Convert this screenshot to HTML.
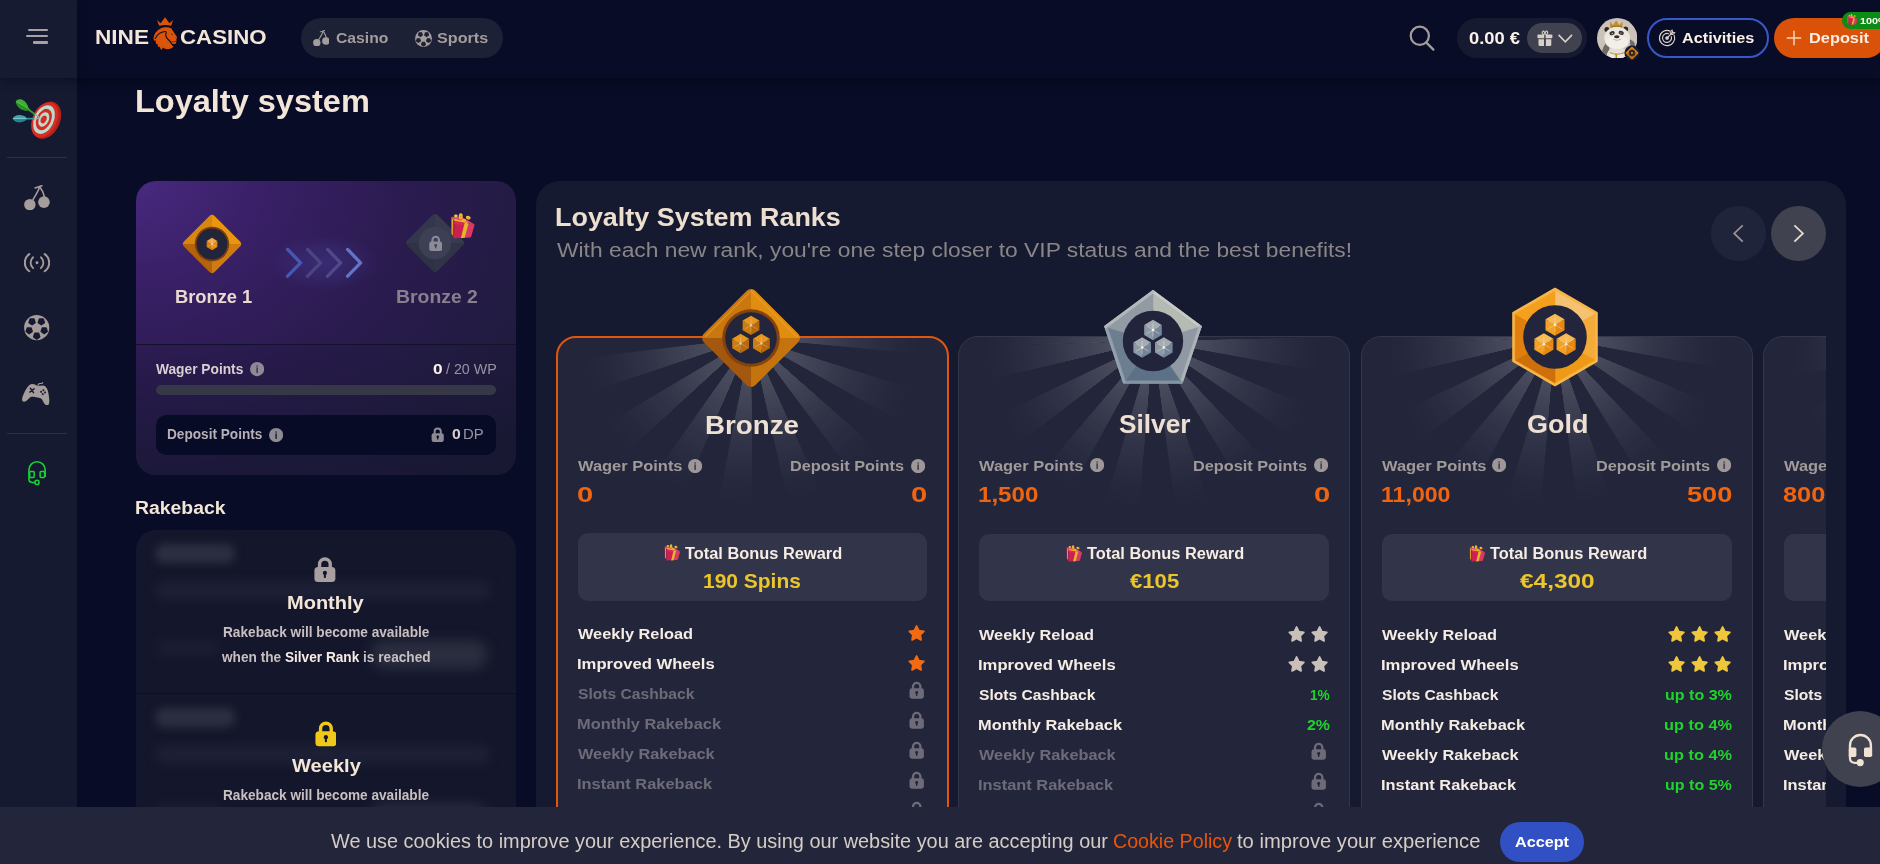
<!DOCTYPE html>
<html lang="en"><head><meta charset="utf-8"><title>Loyalty system</title>
<style>
html,body{margin:0;padding:0;background:#080c26;}
body{width:1880px;height:864px;overflow:hidden;position:relative;font-family:"Liberation Sans",sans-serif;}
#root{position:absolute;left:0;top:0;width:1880px;height:864px;overflow:hidden;}
.a{position:absolute;box-sizing:content-box;}
.t{position:absolute;white-space:nowrap;line-height:1;letter-spacing:0;transform-origin:0 50%;}
.rays{position:absolute;width:420px;height:420px;border-radius:50%;
 -webkit-mask-image:radial-gradient(circle at 50% 50%, #000 0px, rgba(0,0,0,.92) 45px, rgba(0,0,0,.38) 100px, rgba(0,0,0,.09) 145px, rgba(0,0,0,0) 174px);
 mask-image:radial-gradient(circle at 50% 50%, #000 0px, rgba(0,0,0,.92) 45px, rgba(0,0,0,.38) 100px, rgba(0,0,0,.09) 145px, rgba(0,0,0,0) 174px);}
</style></head>
<body><div id="root">
<div class="a " style="left:0.00px;top:0.00px;width:1880.00px;height:864.00px;background:#080c26"></div>
<span class="t" style="left:135.09px;top:85.56px;font-size:31.59px;font-weight:700;color:#f3e6d8;transform:scaleX(1.0289);">Loyalty system</span>
<div class="a " style="left:136.00px;top:181.00px;width:380.00px;height:294.00px;border-radius:20px;overflow:hidden;background:radial-gradient(ellipse farthest-corner at 0% 0%, #48297f 0%, #3a2068 22%, #2b1b50 50%, #221b42 75%, #1a1a33 100%)"></div>
<div class="a " style="left:136.00px;top:345.00px;width:380.00px;height:130.00px;border-radius:0 0 20px 20px;background:linear-gradient(180deg, rgba(18,20,44,.12) 0%, rgba(18,20,44,.42) 100%)"></div>
<div class="a " style="left:136.00px;top:343.80px;width:380.00px;height:1.60px;background:#13122a"></div>
<span class="t" style="left:174.51px;top:289.46px;font-size:17.54px;font-weight:700;color:#ead9d0;transform:scaleX(1.0438);">Bronze 1</span>
<span class="t" style="left:395.74px;top:289.46px;font-size:17.54px;font-weight:700;color:#8a7f8f;transform:scaleX(1.1059);">Bronze 2</span>
<span class="t" style="left:156.00px;top:362.62px;font-size:13.91px;font-weight:700;color:#d9cfd0;transform:scaleX(0.9887);">Wager Points</span>
<span class="t" style="left:433.11px;top:362.62px;font-size:13.91px;font-weight:700;color:#fbf3ea;transform:scaleX(1.2408);">0</span>
<span class="t" style="left:445.50px;top:362.62px;font-size:13.91px;font-weight:400;color:#9a93a0;transform:scaleX(1.0253);">/ 20 WP</span>
<div class="a " style="left:156.00px;top:385.00px;width:340.00px;height:10.00px;border-radius:5px;background:#363848"></div>
<div class="a " style="left:156.00px;top:415.20px;width:340.00px;height:39.60px;border-radius:10px;background:#080b26"></div>
<span class="t" style="left:167.41px;top:427.52px;font-size:13.91px;font-weight:700;color:#b8b0b8;transform:scaleX(0.9799);">Deposit Points</span>
<span class="t" style="left:451.67px;top:427.52px;font-size:13.91px;font-weight:700;color:#d9cfd0;transform:scaleX(1.1349);">0</span>
<span class="t" style="left:463.31px;top:427.52px;font-size:13.91px;font-weight:400;color:#9a93a0;transform:scaleX(1.0710);">DP</span>
<div class="a " style="left:272.00px;top:236.00px;width:106.00px;height:54.00px;border-radius:50%;background:radial-gradient(ellipse at center, rgba(84,92,200,.24) 0%, rgba(84,92,200,.10) 45%, rgba(84,92,200,0) 72%)"></div>
<svg class="a" style="left:180.20px;top:211.80px;" width="64.00" height="64.00" viewBox="-32 -32 64 64"><defs><clipPath id="cls"><rect x="-21.68" y="-21.68" width="43.36" height="43.36" rx="4.00" transform="rotate(45)"/></clipPath></defs><g clip-path="url(#cls)"><rect x="-31.0" y="-31.0" width="31.0" height="31.0" fill="#d9860f"/><rect x="0" y="-31.0" width="31.0" height="31.0" fill="#e8950f"/><rect x="-31.0" y="0" width="31.0" height="31.0" fill="#b5620d"/><rect x="0" y="0" width="31.0" height="31.0" fill="#cf7b0e"/></g><circle r="17.20" fill="#7a3e10"/><circle r="15.40" fill="#22243a"/><polygon points="-5.37,-3.10 0.00,-6.20 5.37,-3.10 0.00,0.00" fill="#f0a63c"/><polygon points="-5.37,-3.10 -5.37,3.10 0.00,6.20 0.00,0.00" fill="#d97b0e"/><polygon points="5.37,-3.10 5.37,3.10 0.00,6.20 0.00,0.00" fill="#e38a14"/><path d="M-3.84 -2.23 L3.84 2.23 M3.84 -2.23 L-3.84 2.23 M0.00 -4.04 L0.00 4.04" stroke="#fff6e0" stroke-width="0.6" opacity="0.55"/><circle cx="0.00" cy="0.00" r="0.74" fill="#fff6e0" opacity="0.77"/></svg>
<svg class="a" style="left:284.40px;top:246.00px;" width="21.00" height="34.00" viewBox="-2 0 21 34"><path d="M1.6 3.4 L14.6 16.8 L1.6 30.2" fill="none" stroke="#4659b0" stroke-width="3.3" stroke-linecap="round" stroke-linejoin="round"/></svg>
<svg class="a" style="left:304.27px;top:246.00px;" width="21.00" height="34.00" viewBox="-2 0 21 34"><path d="M1.6 3.4 L14.6 16.8 L1.6 30.2" fill="none" stroke="#4a4580" stroke-width="3.3" stroke-linecap="round" stroke-linejoin="round"/></svg>
<svg class="a" style="left:324.14px;top:246.00px;" width="21.00" height="34.00" viewBox="-2 0 21 34"><path d="M1.6 3.4 L14.6 16.8 L1.6 30.2" fill="none" stroke="#504a8a" stroke-width="3.3" stroke-linecap="round" stroke-linejoin="round"/></svg>
<svg class="a" style="left:344.01px;top:246.00px;" width="21.00" height="34.00" viewBox="-2 0 21 34"><path d="M1.6 3.4 L14.6 16.8 L1.6 30.2" fill="none" stroke="#6373c5" stroke-width="3.3" stroke-linecap="round" stroke-linejoin="round"/></svg>
<svg class="a" style="left:403.20px;top:211.40px;" width="64.00" height="64.00" viewBox="-32 -32 64 64"><defs><clipPath id="cll"><rect x="-21.54" y="-21.54" width="43.07" height="43.07" rx="4.00" transform="rotate(45)"/></clipPath></defs><g clip-path="url(#cll)"><rect x="-30.8" y="-30.8" width="30.8" height="30.8" fill="#34374b"/><rect x="0" y="-30.8" width="30.8" height="30.8" fill="#383b4f"/><rect x="-30.8" y="0" width="30.8" height="30.8" fill="#2f3245"/><rect x="0" y="0" width="30.8" height="30.8" fill="#313447"/></g><circle r="16.20" fill="#3d4054"/></svg>
<svg class="a" style="left:428.60px;top:235.20px;" width="13.40" height="16.20" viewBox="0 0 20 24"><path d="M5.1 11 V7.4 a4.9 4.9 0 0 1 9.8 0 V11" fill="none" stroke="#8c8c98" stroke-width="3.1"/><rect x="0.4" y="9.8" width="19.2" height="13.9" rx="3.3" fill="#8c8c98"/><circle cx="10" cy="15.3" r="1.95" fill="#3d4054"/><rect x="9.05" y="15.6" width="1.9" height="4.3" rx="0.7" fill="#3d4054"/></svg>
<svg class="a" style="left:449.50px;top:213.20px;" width="25.00" height="26.15" viewBox="205 168 540 565"><path d="M225 248 L470 262 L735 418 L298 338 Z" fill="#ea4a72"/><path d="M225 248 L298 338 L290 712 L232 604 Z" fill="#c41c42"/><path d="M243 268 L271 302 L263 662 L238 614 Z" fill="#e6b02a"/><path d="M298 338 L735 418 L655 690 L290 712 Z" fill="#cc2050"/><path d="M600 393 L735 418 L655 690 L520 704 Z" fill="#da3966"/><path d="M298 338 L522 378 L505 440 L296 400 Z" fill="#d9305c" opacity=".7"/><path d="M522 378 L607 394 L522 704 L440 714 Z" fill="#e8b52a"/><path d="M290 300 L560 352 L600 392 L300 338 Z" fill="#e9b32a"/><ellipse cx="332" cy="234" rx="40" ry="31" fill="#f3c736"/><ellipse cx="437" cy="238" rx="43" ry="64" fill="#f1c030"/><ellipse cx="600" cy="270" rx="52" ry="38" transform="rotate(18 600 270)" fill="#f3c736"/><ellipse cx="604" cy="274" rx="22" ry="14" transform="rotate(18 604 274)" fill="#d9951c"/><ellipse cx="500" cy="330" rx="52" ry="30" fill="#eeb62c"/><ellipse cx="437" cy="250" rx="16" ry="34" fill="#dc9a1e"/></svg>
<svg class="a" style="left:249.50px;top:362.40px;" width="14.20" height="14.20" viewBox="-7.1 -7.1 14.2 14.2"><circle r="7.1" fill="#8e8a93"/><circle cx="0" cy="-3.15" r="0.72" fill="#2a1f4c"/><rect x="-0.62" y="-1.95" width="1.24" height="5.8" rx="0.5" fill="#2a1f4c"/></svg>
<svg class="a" style="left:268.50px;top:427.50px;" width="14.20" height="14.20" viewBox="-7.1 -7.1 14.2 14.2"><circle r="7.1" fill="#8e8a93"/><circle cx="0" cy="-3.15" r="0.72" fill="#080b26"/><rect x="-0.62" y="-1.95" width="1.24" height="5.8" rx="0.5" fill="#080b26"/></svg>
<svg class="a" style="left:430.50px;top:426.80px;" width="13.40" height="15.20" viewBox="0 0 20 24"><path d="M5.1 11 V7.4 a4.9 4.9 0 0 1 9.8 0 V11" fill="none" stroke="#8e8a93" stroke-width="3.1"/><rect x="0.4" y="9.8" width="19.2" height="13.9" rx="3.3" fill="#8e8a93"/><circle cx="10" cy="15.3" r="1.95" fill="#080b26"/><rect x="9.05" y="15.6" width="1.9" height="4.3" rx="0.7" fill="#080b26"/></svg>
<span class="t" style="left:135.04px;top:499.53px;font-size:17.68px;font-weight:700;color:#f3e6d8;transform:scaleX(1.0968);">Rakeback</span>
<div class="a " style="left:136.00px;top:530.00px;width:380.00px;height:340.00px;border-radius:20px 20px 0 0;background:#14172b;overflow:hidden"></div>
<div class="a " style="left:155.00px;top:544.00px;width:80.00px;height:19.00px;border-radius:9px;background:#2c2f41;filter:blur(4.5px)"></div>
<div class="a " style="left:156.00px;top:581.00px;width:334.00px;height:19.00px;border-radius:9px;background:#1d2035;filter:blur(5.0px)"></div>
<div class="a " style="left:156.00px;top:640.00px;width:64.00px;height:16.00px;border-radius:8px;background:#1b1e33;filter:blur(5.0px)"></div>
<div class="a " style="left:371.00px;top:640.00px;width:116.00px;height:29.00px;border-radius:14px;background:#2a2d3e;filter:blur(6.0px)"></div>
<div class="a " style="left:155.00px;top:707.60px;width:80.00px;height:19.00px;border-radius:9px;background:#2c2f41;filter:blur(4.5px)"></div>
<div class="a " style="left:156.00px;top:744.60px;width:334.00px;height:19.00px;border-radius:9px;background:#1d2035;filter:blur(5.0px)"></div>
<div class="a " style="left:156.00px;top:803.60px;width:64.00px;height:16.00px;border-radius:8px;background:#1b1e33;filter:blur(5.0px)"></div>
<div class="a " style="left:371.00px;top:803.60px;width:116.00px;height:29.00px;border-radius:14px;background:#2a2d3e;filter:blur(6.0px)"></div>
<div class="a " style="left:136.00px;top:692.60px;width:380.00px;height:1.40px;background:#0c0f22"></div>
<svg class="a" style="left:314.35px;top:556.20px;" width="21.80" height="26.60" viewBox="0 0 20 24"><path d="M5.1 11 V7.4 a4.9 4.9 0 0 1 9.8 0 V11" fill="none" stroke="#a8a0a0" stroke-width="3.1"/><rect x="0.4" y="9.8" width="19.2" height="13.9" rx="3.3" fill="#a8a0a0"/><circle cx="10" cy="15.3" r="1.95" fill="#14172b"/><rect x="9.05" y="15.6" width="1.9" height="4.3" rx="0.7" fill="#14172b"/></svg>
<svg class="a" style="left:314.50px;top:719.80px;" width="21.80" height="27.20" viewBox="0 0 20 24"><path d="M5.1 11 V7.4 a4.9 4.9 0 0 1 9.8 0 V11" fill="none" stroke="#f0c81a" stroke-width="3.1"/><rect x="0.4" y="9.8" width="19.2" height="13.9" rx="3.3" fill="#f0c81a"/><circle cx="10" cy="15.3" r="1.95" fill="#14172b"/><rect x="9.05" y="15.6" width="1.9" height="4.3" rx="0.7" fill="#14172b"/></svg>
<span class="t" style="left:287.30px;top:593.62px;font-size:18.41px;font-weight:700;color:#f3e6d8;transform:scaleX(1.0866);">Monthly</span>
<span class="t" style="left:222.61px;top:625.85px;font-size:13.77px;font-weight:700;color:#c8bfc0;transform:scaleX(0.9915);">Rakeback will become available</span>
<span class="t" style="left:222.07px;top:650.85px;font-size:13.77px;font-weight:700;color:#c8bfc0;transform:scaleX(0.9913);">when the <span style="color:#f7ece2">Silver Rank</span> is reached</span>
<span class="t" style="left:292.15px;top:757.32px;font-size:18.41px;font-weight:700;color:#f3e6d8;transform:scaleX(1.0914);">Weekly</span>
<span class="t" style="left:223.01px;top:789.25px;font-size:13.77px;font-weight:700;color:#c8bfc0;transform:scaleX(0.9900);">Rakeback will become available</span>
<span class="t" style="left:226.07px;top:814.25px;font-size:13.77px;font-weight:700;color:#c8bfc0;transform:scaleX(0.9832);">when the <span style="color:#f7ece2">Gold Rank</span> is reached</span>
<div class="a " style="left:536.00px;top:181.00px;width:1310.00px;height:700.00px;border-radius:24px 24px 0 0;background:#161a30"></div>
<span class="t" style="left:555.25px;top:205.24px;font-size:25.94px;font-weight:700;color:#eddfd0;transform:scaleX(1.0380);">Loyalty System Ranks</span>
<span class="t" style="left:556.89px;top:240.38px;font-size:20.58px;font-weight:400;color:#8a8688;transform:scaleX(1.1084);">With each new rank, you're one step closer to VIP status and the best benefits!</span>
<div class="a " style="left:1710.70px;top:205.90px;width:55.40px;height:55.40px;border-radius:50%;background:#20243a"></div>
<div class="a " style="left:1770.90px;top:205.90px;width:55.40px;height:55.40px;border-radius:50%;background:#40424f"></div>
<svg class="a" style="left:1728.00px;top:223.00px;" width="20.00" height="21.00" viewBox="0 0 20 21"><path d="M14.7 2.4 L6.2 10.4 L14.7 18.6" fill="none" stroke="#9a9090" stroke-width="1.8"/></svg>
<svg class="a" style="left:1789.00px;top:223.00px;" width="20.00" height="21.00" viewBox="0 0 20 21"><path d="M5.4 2.4 L13.9 10.4 L5.4 18.6" fill="none" stroke="#e8dcd0" stroke-width="1.8"/></svg>
<div class="a" style="left:556px;top:281px;width:1270px;height:600px;overflow:hidden">
<div class="a " style="left:0.00px;top:55.30px;width:388.50px;height:556.00px;border:2px solid #e0560c;border-radius:20px;background:#23263b;overflow:hidden"><div class="rays" style="background:repeating-conic-gradient(from 11.30deg at 50% 50%, rgba(255,255,255,0) 0deg, rgba(255,255,255,0.19) 0.30deg, rgba(255,255,255,0.19) 11.70deg, rgba(255,255,255,0) 12.30deg, rgba(255,255,255,0) 23.70deg, rgba(255,255,255,0) 24deg);left:-16.80px;top:-210.80px"></div></div>
<svg class="a" style="left:143.20px;top:5.20px;" width="104.00" height="104.00" viewBox="-52 -52 104 104"><defs><clipPath id="clb"><rect x="-36.41" y="-36.41" width="72.81" height="72.81" rx="6.00" transform="rotate(45)"/></clipPath></defs><g clip-path="url(#clb)"><rect x="-51.0" y="-51.0" width="51.0" height="51.0" fill="#ca770e"/><rect x="0" y="-51.0" width="51.0" height="51.0" fill="#e18d0f"/><rect x="-51.0" y="0" width="51.0" height="51.0" fill="#a4570f"/><rect x="0" y="0" width="51.0" height="51.0" fill="#c5740d"/></g><circle r="28.80" fill="#84420f"/><circle r="25.80" fill="#22253b"/><path d="M-46 -1 L0 -47 L46 -1" fill="none" stroke="#f0a83a" stroke-width="1.2" opacity=".55"/><polygon points="-8.40,-17.45 0.00,-22.30 8.40,-17.45 0.00,-12.60" fill="#e9961c"/><polygon points="-8.40,-17.45 -8.40,-7.75 0.00,-2.90 0.00,-12.60" fill="#cc7c10"/><polygon points="8.40,-17.45 8.40,-7.75 0.00,-2.90 0.00,-12.60" fill="#b8690e"/><path d="M-6.01 -16.09 L6.01 -9.11 M6.01 -16.09 L-6.01 -9.11 M0.00 -18.91 L0.00 -6.29" stroke="#fff6e0" stroke-width="0.6" opacity="0.42"/><circle cx="0.00" cy="-12.60" r="1.16" fill="#fff6e0" opacity="0.59"/><polygon points="-18.80,0.65 -10.40,-4.20 -2.00,0.65 -10.40,5.50" fill="#e9961c"/><polygon points="-18.80,0.65 -18.80,10.35 -10.40,15.20 -10.40,5.50" fill="#cc7c10"/><polygon points="-2.00,0.65 -2.00,10.35 -10.40,15.20 -10.40,5.50" fill="#b8690e"/><path d="M-16.41 2.01 L-4.39 8.99 M-4.39 2.01 L-16.41 8.99 M-10.40 -0.81 L-10.40 11.81" stroke="#fff6e0" stroke-width="0.6" opacity="0.42"/><circle cx="-10.40" cy="5.50" r="1.16" fill="#fff6e0" opacity="0.59"/><polygon points="2.00,0.65 10.40,-4.20 18.80,0.65 10.40,5.50" fill="#e9961c"/><polygon points="2.00,0.65 2.00,10.35 10.40,15.20 10.40,5.50" fill="#cc7c10"/><polygon points="18.80,0.65 18.80,10.35 10.40,15.20 10.40,5.50" fill="#b8690e"/><path d="M4.39 2.01 L16.41 8.99 M16.41 2.01 L4.39 8.99 M10.40 -0.81 L10.40 11.81" stroke="#fff6e0" stroke-width="0.6" opacity="0.42"/><circle cx="10.40" cy="5.50" r="1.16" fill="#fff6e0" opacity="0.59"/></svg>
<span class="t" style="left:149.10px;top:131.90px;font-size:24.93px;font-weight:700;color:#eee0d3;transform:scaleX(1.1116);">Bronze</span>
<span class="t" style="left:22.00px;top:177.32px;font-size:15.22px;font-weight:700;color:#a09a9a;transform:scaleX(1.0810);">Wager Points</span>
<svg class="a" style="left:132.20px;top:177.50px;" width="14.20" height="14.20" viewBox="-7.1 -7.1 14.2 14.2"><circle r="7.1" fill="#9f9797"/><circle cx="0" cy="-3.15" r="0.72" fill="#23263b"/><rect x="-0.62" y="-1.95" width="1.24" height="5.8" rx="0.5" fill="#23263b"/></svg>
<span class="t" style="left:234.04px;top:177.32px;font-size:15.22px;font-weight:700;color:#a09a9a;transform:scaleX(1.0703);">Deposit Points</span>
<svg class="a" style="left:355.00px;top:177.50px;" width="14.20" height="14.20" viewBox="-7.1 -7.1 14.2 14.2"><circle r="7.1" fill="#9f9797"/><circle cx="0" cy="-3.15" r="0.72" fill="#23263b"/><rect x="-0.62" y="-1.95" width="1.24" height="5.8" rx="0.5" fill="#23263b"/></svg>
<span class="t" style="left:20.83px;top:202.90px;font-size:21.74px;font-weight:700;color:#f0640f;transform:scaleX(1.3461);">0</span>
<span class="t" style="left:354.83px;top:202.90px;font-size:21.74px;font-weight:700;color:#f0640f;transform:scaleX(1.3461);">0</span>
<div class="a " style="left:22.00px;top:252.00px;width:348.50px;height:67.60px;border-radius:10px;background:#32354a"></div>
<svg class="a" style="left:107.85px;top:263.30px;" width="16.40" height="17.15" viewBox="205 168 540 565"><path d="M225 248 L470 262 L735 418 L298 338 Z" fill="#ea4a72"/><path d="M225 248 L298 338 L290 712 L232 604 Z" fill="#c41c42"/><path d="M243 268 L271 302 L263 662 L238 614 Z" fill="#e6b02a"/><path d="M298 338 L735 418 L655 690 L290 712 Z" fill="#cc2050"/><path d="M600 393 L735 418 L655 690 L520 704 Z" fill="#da3966"/><path d="M298 338 L522 378 L505 440 L296 400 Z" fill="#d9305c" opacity=".7"/><path d="M522 378 L607 394 L522 704 L440 714 Z" fill="#e8b52a"/><path d="M290 300 L560 352 L600 392 L300 338 Z" fill="#e9b32a"/><ellipse cx="332" cy="234" rx="40" ry="31" fill="#f3c736"/><ellipse cx="437" cy="238" rx="43" ry="64" fill="#f1c030"/><ellipse cx="600" cy="270" rx="52" ry="38" transform="rotate(18 600 270)" fill="#f3c736"/><ellipse cx="604" cy="274" rx="22" ry="14" transform="rotate(18 604 274)" fill="#d9951c"/><ellipse cx="500" cy="330" rx="52" ry="30" fill="#eeb62c"/><ellipse cx="437" cy="250" rx="16" ry="34" fill="#dc9a1e"/></svg>
<span class="t" style="left:129.19px;top:264.53px;font-size:15.80px;font-weight:700;color:#f5ece4;transform:scaleX(1.0373);">Total Bonus Reward</span>
<span class="t" style="left:146.64px;top:289.75px;font-size:20.14px;font-weight:700;color:#ebc52a;transform:scaleX(1.0417);">190 Spins</span>
<span class="t" style="left:22.00px;top:344.67px;font-size:15.51px;font-weight:700;color:#f5ece4;transform:scaleX(1.0540);">Weekly Reload</span>
<svg class="a" style="left:352.20px;top:343.90px;" width="17.20" height="16.94" viewBox="-10.6 -10.7 21.2 20.9"><path d="M0.00 -9.35 L2.79 -3.84 L8.89 -2.89 L4.52 1.47 L5.50 7.56 L0.00 4.75 L-5.50 7.56 L-4.52 1.47 L-8.89 -2.89 L-2.79 -3.84Z" fill="#f26a12" stroke="#f26a12" stroke-width="2.3" stroke-linejoin="round"/></svg>
<span class="t" style="left:20.92px;top:374.67px;font-size:15.51px;font-weight:700;color:#f5ece4;transform:scaleX(1.0728);">Improved Wheels</span>
<svg class="a" style="left:352.20px;top:373.90px;" width="17.20" height="16.94" viewBox="-10.6 -10.7 21.2 20.9"><path d="M0.00 -9.35 L2.79 -3.84 L8.89 -2.89 L4.52 1.47 L5.50 7.56 L0.00 4.75 L-5.50 7.56 L-4.52 1.47 L-8.89 -2.89 L-2.79 -3.84Z" fill="#f26a12" stroke="#f26a12" stroke-width="2.3" stroke-linejoin="round"/></svg>
<span class="t" style="left:21.53px;top:404.67px;font-size:15.51px;font-weight:700;color:#6d6b78;transform:scaleX(1.0088);">Slots Cashback</span>
<svg class="a" style="left:352.50px;top:400.20px;" width="15.40" height="18.00" viewBox="0 0 20 24"><path d="M5.1 11 V7.4 a4.9 4.9 0 0 1 9.8 0 V11" fill="none" stroke="#6d6b78" stroke-width="3.1"/><rect x="0.4" y="9.8" width="19.2" height="13.9" rx="3.3" fill="#6d6b78"/><circle cx="10" cy="15.3" r="1.95" fill="#23263b"/><rect x="9.05" y="15.6" width="1.9" height="4.3" rx="0.7" fill="#23263b"/></svg>
<span class="t" style="left:20.93px;top:434.67px;font-size:15.51px;font-weight:700;color:#6d6b78;transform:scaleX(1.0581);">Monthly Rakeback</span>
<svg class="a" style="left:352.50px;top:430.20px;" width="15.40" height="18.00" viewBox="0 0 20 24"><path d="M5.1 11 V7.4 a4.9 4.9 0 0 1 9.8 0 V11" fill="none" stroke="#6d6b78" stroke-width="3.1"/><rect x="0.4" y="9.8" width="19.2" height="13.9" rx="3.3" fill="#6d6b78"/><circle cx="10" cy="15.3" r="1.95" fill="#23263b"/><rect x="9.05" y="15.6" width="1.9" height="4.3" rx="0.7" fill="#23263b"/></svg>
<span class="t" style="left:22.00px;top:464.67px;font-size:15.51px;font-weight:700;color:#6d6b78;transform:scaleX(1.0526);">Weekly Rakeback</span>
<svg class="a" style="left:352.50px;top:460.20px;" width="15.40" height="18.00" viewBox="0 0 20 24"><path d="M5.1 11 V7.4 a4.9 4.9 0 0 1 9.8 0 V11" fill="none" stroke="#6d6b78" stroke-width="3.1"/><rect x="0.4" y="9.8" width="19.2" height="13.9" rx="3.3" fill="#6d6b78"/><circle cx="10" cy="15.3" r="1.95" fill="#23263b"/><rect x="9.05" y="15.6" width="1.9" height="4.3" rx="0.7" fill="#23263b"/></svg>
<span class="t" style="left:20.93px;top:494.67px;font-size:15.51px;font-weight:700;color:#6d6b78;transform:scaleX(1.0590);">Instant Rakeback</span>
<svg class="a" style="left:352.50px;top:490.20px;" width="15.40" height="18.00" viewBox="0 0 20 24"><path d="M5.1 11 V7.4 a4.9 4.9 0 0 1 9.8 0 V11" fill="none" stroke="#6d6b78" stroke-width="3.1"/><rect x="0.4" y="9.8" width="19.2" height="13.9" rx="3.3" fill="#6d6b78"/><circle cx="10" cy="15.3" r="1.95" fill="#23263b"/><rect x="9.05" y="15.6" width="1.9" height="4.3" rx="0.7" fill="#23263b"/></svg>
<svg class="a" style="left:352.50px;top:520.20px;" width="15.40" height="18.00" viewBox="0 0 20 24"><path d="M5.1 11 V7.4 a4.9 4.9 0 0 1 9.8 0 V11" fill="none" stroke="#6d6b78" stroke-width="3.1"/><rect x="0.4" y="9.8" width="19.2" height="13.9" rx="3.3" fill="#6d6b78"/><circle cx="10" cy="15.3" r="1.95" fill="#23263b"/><rect x="9.05" y="15.6" width="1.9" height="4.3" rx="0.7" fill="#23263b"/></svg>
<div class="a " style="left:402.40px;top:55.30px;width:390.00px;height:558.00px;border:1px solid #34374a;border-radius:20px;background:#23263b;overflow:hidden"><div class="rays" style="background:conic-gradient(from 0deg at 50% 50%, rgba(255,255,255,0) 0deg, rgba(255,255,255,0) 268.3deg, rgba(255,255,255,.19) 268.5deg, rgba(255,255,255,.19) 276deg, rgba(255,255,255,0) 276.4deg, rgba(255,255,255,0) 360deg), repeating-conic-gradient(from 16.60deg at 50% 50%, rgba(255,255,255,0) 0deg, rgba(255,255,255,0.19) 0.30deg, rgba(255,255,255,0.19) 11.50deg, rgba(255,255,255,0) 12.10deg, rgba(255,255,255,0) 23.70deg, rgba(255,255,255,0) 24deg);left:-16.60px;top:-206.20px"></div></div>
<svg class="a" style="left:544.80px;top:6.10px;" width="104.00" height="104.00" viewBox="-52 -54 104 104"><polygon points="0.0,-49.4 47.2,-14.4 28.4,41.0 -28.7,41.0 -47.2,-14.4" fill="#a9b1b6" stroke="#a9b1b6" stroke-width="3" stroke-linejoin="round"/><path d="M0.0 -49.4 L47.2 -14.4" stroke="#c6cac3" stroke-width="3" stroke-linecap="round"/><path d="M47.2 -14.4 L28.4 41.0" stroke="#adb4b8" stroke-width="3" stroke-linecap="round"/><path d="M28.4 41.0 L-28.7 41.0" stroke="#8594a2" stroke-width="3" stroke-linecap="round"/><path d="M-28.7 41.0 L-47.2 -14.4" stroke="#90a0ad" stroke-width="3" stroke-linecap="round"/><path d="M-47.2 -14.4 L0.0 -49.4" stroke="#b3b9bb" stroke-width="3" stroke-linecap="round"/><polygon points="0,0 0.0,-47.0 45.1,-13.6" fill="#b5bab2" stroke="#b5bab2" stroke-width=".5"/><polygon points="0,0 45.1,-13.6 27.1,39.4" fill="#9099a3" stroke="#9099a3" stroke-width=".5"/><polygon points="0,0 27.1,39.4 -27.4,39.4" fill="#5d7186" stroke="#5d7186" stroke-width=".5"/><polygon points="0,0 -27.4,39.4 -45.1,-13.6" fill="#6c7e90" stroke="#6c7e90" stroke-width=".5"/><polygon points="0,0 -45.1,-13.6 0.0,-47.0" fill="#929aa3" stroke="#929aa3" stroke-width=".5"/><polygon points="28.4,41.0 -28.7,41.0" fill="none" stroke="#7f8d9b" stroke-width="1.2" opacity=".5" transform="translate(0,1.2)"/><circle r="30.2" fill="#21243a"/><polygon points="-8.83,-16.10 0.00,-21.20 8.83,-16.10 0.00,-11.00" fill="#a3abb3"/><polygon points="-8.83,-16.10 -8.83,-5.90 0.00,-0.80 0.00,-11.00" fill="#8b98a6"/><polygon points="8.83,-16.10 8.83,-5.90 0.00,-0.80 0.00,-11.00" fill="#73859a"/><path d="M-6.32 -14.67 L6.32 -7.33 M6.32 -14.67 L-6.32 -7.33 M0.00 -17.64 L0.00 -4.36" stroke="#fff6e0" stroke-width="0.6" opacity="0.70"/><circle cx="0.00" cy="-11.00" r="1.22" fill="#fff6e0" opacity="0.98"/><polygon points="-19.63,1.40 -10.80,-3.70 -1.97,1.40 -10.80,6.50" fill="#a3abb3"/><polygon points="-19.63,1.40 -19.63,11.60 -10.80,16.70 -10.80,6.50" fill="#8b98a6"/><polygon points="-1.97,1.40 -1.97,11.60 -10.80,16.70 -10.80,6.50" fill="#73859a"/><path d="M-17.12 2.83 L-4.48 10.17 M-4.48 2.83 L-17.12 10.17 M-10.80 -0.14 L-10.80 13.14" stroke="#fff6e0" stroke-width="0.6" opacity="0.70"/><circle cx="-10.80" cy="6.50" r="1.22" fill="#fff6e0" opacity="0.98"/><polygon points="1.97,1.40 10.80,-3.70 19.63,1.40 10.80,6.50" fill="#a3abb3"/><polygon points="1.97,1.40 1.97,11.60 10.80,16.70 10.80,6.50" fill="#8b98a6"/><polygon points="19.63,1.40 19.63,11.60 10.80,16.70 10.80,6.50" fill="#73859a"/><path d="M4.48 2.83 L17.12 10.17 M17.12 2.83 L4.48 10.17 M10.80 -0.14 L10.80 13.14" stroke="#fff6e0" stroke-width="0.6" opacity="0.70"/><circle cx="10.80" cy="6.50" r="1.22" fill="#fff6e0" opacity="0.98"/></svg>
<span class="t" style="left:562.71px;top:130.50px;font-size:24.93px;font-weight:700;color:#eee0d3;transform:scaleX(1.0538);">Silver</span>
<span class="t" style="left:423.40px;top:177.02px;font-size:15.22px;font-weight:700;color:#a09a9a;transform:scaleX(1.0810);">Wager Points</span>
<svg class="a" style="left:533.60px;top:176.80px;" width="14.20" height="14.20" viewBox="-7.1 -7.1 14.2 14.2"><circle r="7.1" fill="#9f9797"/><circle cx="0" cy="-3.15" r="0.72" fill="#23263b"/><rect x="-0.62" y="-1.95" width="1.24" height="5.8" rx="0.5" fill="#23263b"/></svg>
<span class="t" style="left:636.94px;top:177.02px;font-size:15.22px;font-weight:700;color:#a09a9a;transform:scaleX(1.0703);">Deposit Points</span>
<svg class="a" style="left:757.90px;top:176.80px;" width="14.20" height="14.20" viewBox="-7.1 -7.1 14.2 14.2"><circle r="7.1" fill="#9f9797"/><circle cx="0" cy="-3.15" r="0.72" fill="#23263b"/><rect x="-0.62" y="-1.95" width="1.24" height="5.8" rx="0.5" fill="#23263b"/></svg>
<span class="t" style="left:421.95px;top:202.90px;font-size:21.74px;font-weight:700;color:#f0640f;transform:scaleX(1.1097);">1,500</span>
<span class="t" style="left:757.73px;top:202.90px;font-size:21.74px;font-weight:700;color:#f0640f;transform:scaleX(1.3461);">0</span>
<div class="a " style="left:423.40px;top:252.60px;width:350.00px;height:67.60px;border-radius:10px;background:#32354a"></div>
<svg class="a" style="left:510.00px;top:263.90px;" width="16.40" height="17.15" viewBox="205 168 540 565"><path d="M225 248 L470 262 L735 418 L298 338 Z" fill="#ea4a72"/><path d="M225 248 L298 338 L290 712 L232 604 Z" fill="#c41c42"/><path d="M243 268 L271 302 L263 662 L238 614 Z" fill="#e6b02a"/><path d="M298 338 L735 418 L655 690 L290 712 Z" fill="#cc2050"/><path d="M600 393 L735 418 L655 690 L520 704 Z" fill="#da3966"/><path d="M298 338 L522 378 L505 440 L296 400 Z" fill="#d9305c" opacity=".7"/><path d="M522 378 L607 394 L522 704 L440 714 Z" fill="#e8b52a"/><path d="M290 300 L560 352 L600 392 L300 338 Z" fill="#e9b32a"/><ellipse cx="332" cy="234" rx="40" ry="31" fill="#f3c736"/><ellipse cx="437" cy="238" rx="43" ry="64" fill="#f1c030"/><ellipse cx="600" cy="270" rx="52" ry="38" transform="rotate(18 600 270)" fill="#f3c736"/><ellipse cx="604" cy="274" rx="22" ry="14" transform="rotate(18 604 274)" fill="#d9951c"/><ellipse cx="500" cy="330" rx="52" ry="30" fill="#eeb62c"/><ellipse cx="437" cy="250" rx="16" ry="34" fill="#dc9a1e"/></svg>
<span class="t" style="left:531.34px;top:265.13px;font-size:15.80px;font-weight:700;color:#f5ece4;transform:scaleX(1.0373);">Total Bonus Reward</span>
<span class="t" style="left:573.59px;top:290.35px;font-size:20.14px;font-weight:700;color:#ebc52a;transform:scaleX(1.0991);">€105</span>
<span class="t" style="left:423.40px;top:345.77px;font-size:15.51px;font-weight:700;color:#f5ece4;transform:scaleX(1.0540);">Weekly Reload</span>
<svg class="a" style="left:732.40px;top:345.00px;" width="17.20" height="16.94" viewBox="-10.6 -10.7 21.2 20.9"><path d="M0.00 -9.35 L2.79 -3.84 L8.89 -2.89 L4.52 1.47 L5.50 7.56 L0.00 4.75 L-5.50 7.56 L-4.52 1.47 L-8.89 -2.89 L-2.79 -3.84Z" fill="#c9c0b8" stroke="#c9c0b8" stroke-width="2.3" stroke-linejoin="round"/></svg>
<svg class="a" style="left:755.10px;top:345.00px;" width="17.20" height="16.94" viewBox="-10.6 -10.7 21.2 20.9"><path d="M0.00 -9.35 L2.79 -3.84 L8.89 -2.89 L4.52 1.47 L5.50 7.56 L0.00 4.75 L-5.50 7.56 L-4.52 1.47 L-8.89 -2.89 L-2.79 -3.84Z" fill="#c9c0b8" stroke="#c9c0b8" stroke-width="2.3" stroke-linejoin="round"/></svg>
<span class="t" style="left:422.32px;top:375.77px;font-size:15.51px;font-weight:700;color:#f5ece4;transform:scaleX(1.0728);">Improved Wheels</span>
<svg class="a" style="left:732.40px;top:375.00px;" width="17.20" height="16.94" viewBox="-10.6 -10.7 21.2 20.9"><path d="M0.00 -9.35 L2.79 -3.84 L8.89 -2.89 L4.52 1.47 L5.50 7.56 L0.00 4.75 L-5.50 7.56 L-4.52 1.47 L-8.89 -2.89 L-2.79 -3.84Z" fill="#c9c0b8" stroke="#c9c0b8" stroke-width="2.3" stroke-linejoin="round"/></svg>
<svg class="a" style="left:755.10px;top:375.00px;" width="17.20" height="16.94" viewBox="-10.6 -10.7 21.2 20.9"><path d="M0.00 -9.35 L2.79 -3.84 L8.89 -2.89 L4.52 1.47 L5.50 7.56 L0.00 4.75 L-5.50 7.56 L-4.52 1.47 L-8.89 -2.89 L-2.79 -3.84Z" fill="#c9c0b8" stroke="#c9c0b8" stroke-width="2.3" stroke-linejoin="round"/></svg>
<span class="t" style="left:422.93px;top:405.77px;font-size:15.51px;font-weight:700;color:#f5ece4;transform:scaleX(1.0088);">Slots Cashback</span>
<span class="t" style="left:753.78px;top:405.77px;font-size:15.51px;font-weight:700;color:#1fd32a;transform:scaleX(0.8819);">1%</span>
<span class="t" style="left:422.33px;top:435.77px;font-size:15.51px;font-weight:700;color:#f5ece4;transform:scaleX(1.0581);">Monthly Rakeback</span>
<span class="t" style="left:750.64px;top:435.77px;font-size:15.51px;font-weight:700;color:#1fd32a;transform:scaleX(1.0243);">2%</span>
<span class="t" style="left:423.40px;top:465.77px;font-size:15.51px;font-weight:700;color:#6d6b78;transform:scaleX(1.0526);">Weekly Rakeback</span>
<svg class="a" style="left:755.40px;top:461.30px;" width="15.40" height="18.00" viewBox="0 0 20 24"><path d="M5.1 11 V7.4 a4.9 4.9 0 0 1 9.8 0 V11" fill="none" stroke="#6d6b78" stroke-width="3.1"/><rect x="0.4" y="9.8" width="19.2" height="13.9" rx="3.3" fill="#6d6b78"/><circle cx="10" cy="15.3" r="1.95" fill="#23263b"/><rect x="9.05" y="15.6" width="1.9" height="4.3" rx="0.7" fill="#23263b"/></svg>
<span class="t" style="left:422.33px;top:495.77px;font-size:15.51px;font-weight:700;color:#6d6b78;transform:scaleX(1.0590);">Instant Rakeback</span>
<svg class="a" style="left:755.40px;top:491.30px;" width="15.40" height="18.00" viewBox="0 0 20 24"><path d="M5.1 11 V7.4 a4.9 4.9 0 0 1 9.8 0 V11" fill="none" stroke="#6d6b78" stroke-width="3.1"/><rect x="0.4" y="9.8" width="19.2" height="13.9" rx="3.3" fill="#6d6b78"/><circle cx="10" cy="15.3" r="1.95" fill="#23263b"/><rect x="9.05" y="15.6" width="1.9" height="4.3" rx="0.7" fill="#23263b"/></svg>
<svg class="a" style="left:755.40px;top:521.30px;" width="15.40" height="18.00" viewBox="0 0 20 24"><path d="M5.1 11 V7.4 a4.9 4.9 0 0 1 9.8 0 V11" fill="none" stroke="#6d6b78" stroke-width="3.1"/><rect x="0.4" y="9.8" width="19.2" height="13.9" rx="3.3" fill="#6d6b78"/><circle cx="10" cy="15.3" r="1.95" fill="#23263b"/><rect x="9.05" y="15.6" width="1.9" height="4.3" rx="0.7" fill="#23263b"/></svg>
<div class="a " style="left:805.00px;top:55.30px;width:390.00px;height:558.00px;border:1px solid #34374a;border-radius:20px;background:#23263b;overflow:hidden"><div class="rays" style="background:conic-gradient(from 0deg at 50% 50%, rgba(255,255,255,0) 0deg, rgba(255,255,255,0) 268.3deg, rgba(255,255,255,.19) 268.5deg, rgba(255,255,255,.19) 276deg, rgba(255,255,255,0) 276.4deg, rgba(255,255,255,0) 360deg), repeating-conic-gradient(from 16.60deg at 50% 50%, rgba(255,255,255,0) 0deg, rgba(255,255,255,0.19) 0.30deg, rgba(255,255,255,0.19) 11.50deg, rgba(255,255,255,0) 12.10deg, rgba(255,255,255,0) 23.70deg, rgba(255,255,255,0) 24deg);left:-16.90px;top:-209.80px"></div></div>
<svg class="a" style="left:947.10px;top:4.20px;" width="104.00" height="104.00" viewBox="-52 -52 104 104"><polygon points="0.0,-48.3 41.8,-24.1 41.8,24.1 0.0,48.3 -41.8,24.1 -41.8,-24.2" fill="#f7b64a" stroke="#f7b64a" stroke-width="2" stroke-linejoin="round"/><polygon points="0,0 0.0,-46.1 39.9,-23.1" fill="#f5c273" stroke="#f5c273" stroke-width=".5"/><polygon points="0,0 39.9,-23.1 39.9,23.1" fill="#f4ab3a" stroke="#f4ab3a" stroke-width=".5"/><polygon points="0,0 39.9,23.1 0.0,46.1" fill="#ef9a17" stroke="#ef9a17" stroke-width=".5"/><polygon points="0,0 0.0,46.1 -39.9,23.1" fill="#cf6f09" stroke="#cf6f09" stroke-width=".5"/><polygon points="0,0 -39.9,23.1 -39.9,-23.1" fill="#df800e" stroke="#df800e" stroke-width=".5"/><polygon points="0,0 -39.9,-23.1 0.0,-46.1" fill="#f4a01e" stroke="#f4a01e" stroke-width=".5"/><circle r="31.8" fill="#22253b"/><polygon points="-9.53,-17.70 0.00,-23.20 9.53,-17.70 0.00,-12.20" fill="#f7ba55"/><polygon points="-9.53,-17.70 -9.53,-6.70 0.00,-1.20 0.00,-12.20" fill="#f2a124"/><polygon points="9.53,-17.70 9.53,-6.70 0.00,-1.20 0.00,-12.20" fill="#e8890f"/><path d="M-6.82 -16.16 L6.82 -8.24 M6.82 -16.16 L-6.82 -8.24 M0.00 -19.36 L0.00 -5.04" stroke="#fff6e0" stroke-width="0.6" opacity="0.60"/><circle cx="0.00" cy="-12.20" r="1.32" fill="#fff6e0" opacity="0.84"/><polygon points="-20.63,1.70 -11.10,-3.80 -1.57,1.70 -11.10,7.20" fill="#f7ba55"/><polygon points="-20.63,1.70 -20.63,12.70 -11.10,18.20 -11.10,7.20" fill="#f2a124"/><polygon points="-1.57,1.70 -1.57,12.70 -11.10,18.20 -11.10,7.20" fill="#e8890f"/><path d="M-17.92 3.24 L-4.28 11.16 M-4.28 3.24 L-17.92 11.16 M-11.10 0.04 L-11.10 14.36" stroke="#fff6e0" stroke-width="0.6" opacity="0.60"/><circle cx="-11.10" cy="7.20" r="1.32" fill="#fff6e0" opacity="0.84"/><polygon points="1.57,1.70 11.10,-3.80 20.63,1.70 11.10,7.20" fill="#f7ba55"/><polygon points="1.57,1.70 1.57,12.70 11.10,18.20 11.10,7.20" fill="#f2a124"/><polygon points="20.63,1.70 20.63,12.70 11.10,18.20 11.10,7.20" fill="#e8890f"/><path d="M4.28 3.24 L17.92 11.16 M17.92 3.24 L4.28 11.16 M11.10 0.04 L11.10 14.36" stroke="#fff6e0" stroke-width="0.6" opacity="0.60"/><circle cx="11.10" cy="7.20" r="1.32" fill="#fff6e0" opacity="0.84"/></svg>
<span class="t" style="left:970.97px;top:130.50px;font-size:24.93px;font-weight:700;color:#eee0d3;transform:scaleX(1.0815);">Gold</span>
<span class="t" style="left:826.00px;top:177.02px;font-size:15.22px;font-weight:700;color:#a09a9a;transform:scaleX(1.0810);">Wager Points</span>
<svg class="a" style="left:936.20px;top:176.80px;" width="14.20" height="14.20" viewBox="-7.1 -7.1 14.2 14.2"><circle r="7.1" fill="#9f9797"/><circle cx="0" cy="-3.15" r="0.72" fill="#23263b"/><rect x="-0.62" y="-1.95" width="1.24" height="5.8" rx="0.5" fill="#23263b"/></svg>
<span class="t" style="left:1039.54px;top:177.02px;font-size:15.22px;font-weight:700;color:#a09a9a;transform:scaleX(1.0703);">Deposit Points</span>
<svg class="a" style="left:1160.50px;top:176.80px;" width="14.20" height="14.20" viewBox="-7.1 -7.1 14.2 14.2"><circle r="7.1" fill="#9f9797"/><circle cx="0" cy="-3.15" r="0.72" fill="#23263b"/><rect x="-0.62" y="-1.95" width="1.24" height="5.8" rx="0.5" fill="#23263b"/></svg>
<span class="t" style="left:824.61px;top:202.90px;font-size:21.74px;font-weight:700;color:#f0640f;transform:scaleX(1.0643);">11,000</span>
<span class="t" style="left:1131.29px;top:202.90px;font-size:21.74px;font-weight:700;color:#f0640f;transform:scaleX(1.2488);">500</span>
<div class="a " style="left:826.00px;top:252.60px;width:350.00px;height:67.60px;border-radius:10px;background:#32354a"></div>
<svg class="a" style="left:912.60px;top:263.90px;" width="16.40" height="17.15" viewBox="205 168 540 565"><path d="M225 248 L470 262 L735 418 L298 338 Z" fill="#ea4a72"/><path d="M225 248 L298 338 L290 712 L232 604 Z" fill="#c41c42"/><path d="M243 268 L271 302 L263 662 L238 614 Z" fill="#e6b02a"/><path d="M298 338 L735 418 L655 690 L290 712 Z" fill="#cc2050"/><path d="M600 393 L735 418 L655 690 L520 704 Z" fill="#da3966"/><path d="M298 338 L522 378 L505 440 L296 400 Z" fill="#d9305c" opacity=".7"/><path d="M522 378 L607 394 L522 704 L440 714 Z" fill="#e8b52a"/><path d="M290 300 L560 352 L600 392 L300 338 Z" fill="#e9b32a"/><ellipse cx="332" cy="234" rx="40" ry="31" fill="#f3c736"/><ellipse cx="437" cy="238" rx="43" ry="64" fill="#f1c030"/><ellipse cx="600" cy="270" rx="52" ry="38" transform="rotate(18 600 270)" fill="#f3c736"/><ellipse cx="604" cy="274" rx="22" ry="14" transform="rotate(18 604 274)" fill="#d9951c"/><ellipse cx="500" cy="330" rx="52" ry="30" fill="#eeb62c"/><ellipse cx="437" cy="250" rx="16" ry="34" fill="#dc9a1e"/></svg>
<span class="t" style="left:933.94px;top:265.13px;font-size:15.80px;font-weight:700;color:#f5ece4;transform:scaleX(1.0373);">Total Bonus Reward</span>
<span class="t" style="left:963.68px;top:290.35px;font-size:20.14px;font-weight:700;color:#ebc52a;transform:scaleX(1.2118);">€4,300</span>
<span class="t" style="left:826.00px;top:345.77px;font-size:15.51px;font-weight:700;color:#f5ece4;transform:scaleX(1.0540);">Weekly Reload</span>
<svg class="a" style="left:1112.30px;top:345.00px;" width="17.20" height="16.94" viewBox="-10.6 -10.7 21.2 20.9"><path d="M0.00 -9.35 L2.79 -3.84 L8.89 -2.89 L4.52 1.47 L5.50 7.56 L0.00 4.75 L-5.50 7.56 L-4.52 1.47 L-8.89 -2.89 L-2.79 -3.84Z" fill="#efc73a" stroke="#efc73a" stroke-width="2.3" stroke-linejoin="round"/></svg>
<svg class="a" style="left:1135.00px;top:345.00px;" width="17.20" height="16.94" viewBox="-10.6 -10.7 21.2 20.9"><path d="M0.00 -9.35 L2.79 -3.84 L8.89 -2.89 L4.52 1.47 L5.50 7.56 L0.00 4.75 L-5.50 7.56 L-4.52 1.47 L-8.89 -2.89 L-2.79 -3.84Z" fill="#efc73a" stroke="#efc73a" stroke-width="2.3" stroke-linejoin="round"/></svg>
<svg class="a" style="left:1157.70px;top:345.00px;" width="17.20" height="16.94" viewBox="-10.6 -10.7 21.2 20.9"><path d="M0.00 -9.35 L2.79 -3.84 L8.89 -2.89 L4.52 1.47 L5.50 7.56 L0.00 4.75 L-5.50 7.56 L-4.52 1.47 L-8.89 -2.89 L-2.79 -3.84Z" fill="#efc73a" stroke="#efc73a" stroke-width="2.3" stroke-linejoin="round"/></svg>
<span class="t" style="left:824.92px;top:375.77px;font-size:15.51px;font-weight:700;color:#f5ece4;transform:scaleX(1.0728);">Improved Wheels</span>
<svg class="a" style="left:1112.30px;top:375.00px;" width="17.20" height="16.94" viewBox="-10.6 -10.7 21.2 20.9"><path d="M0.00 -9.35 L2.79 -3.84 L8.89 -2.89 L4.52 1.47 L5.50 7.56 L0.00 4.75 L-5.50 7.56 L-4.52 1.47 L-8.89 -2.89 L-2.79 -3.84Z" fill="#efc73a" stroke="#efc73a" stroke-width="2.3" stroke-linejoin="round"/></svg>
<svg class="a" style="left:1135.00px;top:375.00px;" width="17.20" height="16.94" viewBox="-10.6 -10.7 21.2 20.9"><path d="M0.00 -9.35 L2.79 -3.84 L8.89 -2.89 L4.52 1.47 L5.50 7.56 L0.00 4.75 L-5.50 7.56 L-4.52 1.47 L-8.89 -2.89 L-2.79 -3.84Z" fill="#efc73a" stroke="#efc73a" stroke-width="2.3" stroke-linejoin="round"/></svg>
<svg class="a" style="left:1157.70px;top:375.00px;" width="17.20" height="16.94" viewBox="-10.6 -10.7 21.2 20.9"><path d="M0.00 -9.35 L2.79 -3.84 L8.89 -2.89 L4.52 1.47 L5.50 7.56 L0.00 4.75 L-5.50 7.56 L-4.52 1.47 L-8.89 -2.89 L-2.79 -3.84Z" fill="#efc73a" stroke="#efc73a" stroke-width="2.3" stroke-linejoin="round"/></svg>
<span class="t" style="left:825.53px;top:405.77px;font-size:15.51px;font-weight:700;color:#f5ece4;transform:scaleX(1.0088);">Slots Cashback</span>
<span class="t" style="left:1109.34px;top:405.77px;font-size:15.51px;font-weight:700;color:#1fd32a;transform:scaleX(1.0353);">up to 3%</span>
<span class="t" style="left:824.93px;top:435.77px;font-size:15.51px;font-weight:700;color:#f5ece4;transform:scaleX(1.0581);">Monthly Rakeback</span>
<span class="t" style="left:1108.22px;top:435.77px;font-size:15.51px;font-weight:700;color:#1fd32a;transform:scaleX(1.0526);">up to 4%</span>
<span class="t" style="left:826.00px;top:465.77px;font-size:15.51px;font-weight:700;color:#f5ece4;transform:scaleX(1.0526);">Weekly Rakeback</span>
<span class="t" style="left:1108.22px;top:465.77px;font-size:15.51px;font-weight:700;color:#1fd32a;transform:scaleX(1.0526);">up to 4%</span>
<span class="t" style="left:824.93px;top:495.77px;font-size:15.51px;font-weight:700;color:#f5ece4;transform:scaleX(1.0590);">Instant Rakeback</span>
<span class="t" style="left:1109.34px;top:495.77px;font-size:15.51px;font-weight:700;color:#1fd32a;transform:scaleX(1.0353);">up to 5%</span>
<span class="t" style="left:1109.34px;top:525.77px;font-size:15.51px;font-weight:700;color:#1fd32a;transform:scaleX(1.0353);">up to 5%</span>
<div class="a " style="left:1207.20px;top:55.30px;width:390.00px;height:558.00px;border:1px solid #34374a;border-radius:20px;background:#23263b;overflow:hidden"><div class="rays" style="background:conic-gradient(from 0deg at 50% 50%, rgba(255,255,255,0) 0deg, rgba(255,255,255,0) 268.3deg, rgba(255,255,255,.19) 268.5deg, rgba(255,255,255,.19) 276deg, rgba(255,255,255,0) 276.4deg, rgba(255,255,255,0) 360deg), repeating-conic-gradient(from 16.60deg at 50% 50%, rgba(255,255,255,0) 0deg, rgba(255,255,255,0.19) 0.30deg, rgba(255,255,255,0.19) 11.50deg, rgba(255,255,255,0) 12.10deg, rgba(255,255,255,0) 23.70deg, rgba(255,255,255,0) 24deg);left:-15.00px;top:-209.80px"></div></div>
<span class="t" style="left:1228.20px;top:177.02px;font-size:15.22px;font-weight:700;color:#a09a9a;transform:scaleX(1.0810);">Wager Points</span>
<svg class="a" style="left:1338.40px;top:176.80px;" width="14.20" height="14.20" viewBox="-7.1 -7.1 14.2 14.2"><circle r="7.1" fill="#9f9797"/><circle cx="0" cy="-3.15" r="0.72" fill="#23263b"/><rect x="-0.62" y="-1.95" width="1.24" height="5.8" rx="0.5" fill="#23263b"/></svg>
<span class="t" style="left:1441.74px;top:177.02px;font-size:15.22px;font-weight:700;color:#a09a9a;transform:scaleX(1.0703);">Deposit Points</span>
<svg class="a" style="left:1562.70px;top:176.80px;" width="14.20" height="14.20" viewBox="-7.1 -7.1 14.2 14.2"><circle r="7.1" fill="#9f9797"/><circle cx="0" cy="-3.15" r="0.72" fill="#23263b"/><rect x="-0.62" y="-1.95" width="1.24" height="5.8" rx="0.5" fill="#23263b"/></svg>
<span class="t" style="left:1227.44px;top:202.90px;font-size:21.74px;font-weight:700;color:#f0640f;transform:scaleX(1.1678);">800,000</span>
<span class="t" style="left:1500.71px;top:202.90px;font-size:21.74px;font-weight:700;color:#f0640f;transform:scaleX(1.1712);">25,000</span>
<div class="a " style="left:1228.20px;top:252.60px;width:350.00px;height:67.60px;border-radius:10px;background:#32354a"></div>
<span class="t" style="left:1228.20px;top:345.77px;font-size:15.51px;font-weight:700;color:#f5ece4;transform:scaleX(1.0540);">Weekly Reload</span>
<svg class="a" style="left:1514.50px;top:345.00px;" width="17.20" height="16.94" viewBox="-10.6 -10.7 21.2 20.9"><path d="M0.00 -9.35 L2.79 -3.84 L8.89 -2.89 L4.52 1.47 L5.50 7.56 L0.00 4.75 L-5.50 7.56 L-4.52 1.47 L-8.89 -2.89 L-2.79 -3.84Z" fill="#efc73a" stroke="#efc73a" stroke-width="2.3" stroke-linejoin="round"/></svg>
<svg class="a" style="left:1537.20px;top:345.00px;" width="17.20" height="16.94" viewBox="-10.6 -10.7 21.2 20.9"><path d="M0.00 -9.35 L2.79 -3.84 L8.89 -2.89 L4.52 1.47 L5.50 7.56 L0.00 4.75 L-5.50 7.56 L-4.52 1.47 L-8.89 -2.89 L-2.79 -3.84Z" fill="#efc73a" stroke="#efc73a" stroke-width="2.3" stroke-linejoin="round"/></svg>
<svg class="a" style="left:1559.90px;top:345.00px;" width="17.20" height="16.94" viewBox="-10.6 -10.7 21.2 20.9"><path d="M0.00 -9.35 L2.79 -3.84 L8.89 -2.89 L4.52 1.47 L5.50 7.56 L0.00 4.75 L-5.50 7.56 L-4.52 1.47 L-8.89 -2.89 L-2.79 -3.84Z" fill="#efc73a" stroke="#efc73a" stroke-width="2.3" stroke-linejoin="round"/></svg>
<span class="t" style="left:1227.12px;top:375.77px;font-size:15.51px;font-weight:700;color:#f5ece4;transform:scaleX(1.0728);">Improved Wheels</span>
<svg class="a" style="left:1514.50px;top:375.00px;" width="17.20" height="16.94" viewBox="-10.6 -10.7 21.2 20.9"><path d="M0.00 -9.35 L2.79 -3.84 L8.89 -2.89 L4.52 1.47 L5.50 7.56 L0.00 4.75 L-5.50 7.56 L-4.52 1.47 L-8.89 -2.89 L-2.79 -3.84Z" fill="#efc73a" stroke="#efc73a" stroke-width="2.3" stroke-linejoin="round"/></svg>
<svg class="a" style="left:1537.20px;top:375.00px;" width="17.20" height="16.94" viewBox="-10.6 -10.7 21.2 20.9"><path d="M0.00 -9.35 L2.79 -3.84 L8.89 -2.89 L4.52 1.47 L5.50 7.56 L0.00 4.75 L-5.50 7.56 L-4.52 1.47 L-8.89 -2.89 L-2.79 -3.84Z" fill="#efc73a" stroke="#efc73a" stroke-width="2.3" stroke-linejoin="round"/></svg>
<svg class="a" style="left:1559.90px;top:375.00px;" width="17.20" height="16.94" viewBox="-10.6 -10.7 21.2 20.9"><path d="M0.00 -9.35 L2.79 -3.84 L8.89 -2.89 L4.52 1.47 L5.50 7.56 L0.00 4.75 L-5.50 7.56 L-4.52 1.47 L-8.89 -2.89 L-2.79 -3.84Z" fill="#efc73a" stroke="#efc73a" stroke-width="2.3" stroke-linejoin="round"/></svg>
<span class="t" style="left:1227.73px;top:405.77px;font-size:15.51px;font-weight:700;color:#f5ece4;transform:scaleX(1.0088);">Slots Cashback</span>
<span class="t" style="left:1511.54px;top:405.77px;font-size:15.51px;font-weight:700;color:#1fd32a;transform:scaleX(1.0353);">up to 5%</span>
<span class="t" style="left:1227.13px;top:435.77px;font-size:15.51px;font-weight:700;color:#f5ece4;transform:scaleX(1.0581);">Monthly Rakeback</span>
<span class="t" style="left:1510.42px;top:435.77px;font-size:15.51px;font-weight:700;color:#1fd32a;transform:scaleX(1.0526);">up to 6%</span>
<span class="t" style="left:1228.20px;top:465.77px;font-size:15.51px;font-weight:700;color:#f5ece4;transform:scaleX(1.0526);">Weekly Rakeback</span>
<span class="t" style="left:1510.42px;top:465.77px;font-size:15.51px;font-weight:700;color:#1fd32a;transform:scaleX(1.0526);">up to 6%</span>
<span class="t" style="left:1227.13px;top:495.77px;font-size:15.51px;font-weight:700;color:#f5ece4;transform:scaleX(1.0590);">Instant Rakeback</span>
<span class="t" style="left:1511.54px;top:495.77px;font-size:15.51px;font-weight:700;color:#1fd32a;transform:scaleX(1.0353);">up to 7%</span>
<span class="t" style="left:1511.54px;top:525.77px;font-size:15.51px;font-weight:700;color:#1fd32a;transform:scaleX(1.0353);">up to 7%</span>
</div>
<div class="a " style="left:0.00px;top:0.00px;width:77.00px;height:864.00px;background:#161a30"></div>
<div class="a " style="left:7.00px;top:157.00px;width:60.00px;height:1.00px;background:#2d3044"></div>
<div class="a " style="left:7.00px;top:433.00px;width:60.00px;height:1.00px;background:#2d3044"></div>
<svg class="a" style="left:6.00px;top:92.00px;" width="64.00" height="56.00" viewBox="0 0 987 864"><g transform="rotate(25 625 435)"><ellipse cx="625" cy="435" rx="206" ry="302" fill="#b3221b"/><ellipse cx="596" cy="443" rx="186" ry="288" fill="#d82d25"/><ellipse cx="586" cy="443" rx="150" ry="234" fill="#b9dccf"/><ellipse cx="584" cy="443" rx="112" ry="174" fill="#d52b23"/><ellipse cx="582" cy="443" rx="76" ry="118" fill="#b9dccf"/><ellipse cx="580" cy="443" rx="42" ry="64" fill="#d52b23"/></g><path d="M150 150 C185 85 305 100 348 248 L368 262 L342 282 C250 300 170 240 150 150 Z" fill="#3cb030"/><path d="M160 150 L350 262" stroke="#8fd957" stroke-width="10"/><path d="M150 150 C170 240 250 300 342 282 L350 262 Z" fill="#2a8f27"/><path d="M348 252 L458 334 L440 358 L334 276 Z" fill="#2f9c29"/><path d="M452 334 L536 398 L520 412 L438 354 Z" fill="#aeaba4"/><path d="M105 410 C130 338 262 338 318 398 L318 422 C262 482 130 482 105 410 Z" fill="#3aa9b0"/><path d="M105 410 C130 482 262 482 318 422 L318 410 Z" fill="#24848c"/><path d="M105 410 H318" stroke="#bfe9e6" stroke-width="9"/><path d="M312 396 L440 400 L440 424 L312 426 Z" fill="#2f9aa2"/><path d="M436 400 L532 404 L532 414 L436 424 Z" fill="#b8b5ae"/></svg>
<svg class="a" style="left:24.00px;top:185.00px;" width="25.80" height="25.41" viewBox="0 0 26 25.6"><circle cx="5.9" cy="19.8" r="5.75" fill="#a59c9c"/><circle cx="20.1" cy="17.3" r="5.85" fill="#a59c9c"/><path d="M8.8 15.2 C11.4 11 14.4 6 16 1.5 M20.6 11.8 C19.6 8 18 4.6 15.8 1.8 M11.2 2.9 L18 0.7" fill="none" stroke="#a59c9c" stroke-width="1.6" stroke-linecap="round"/></svg>
<svg class="a" style="left:24.00px;top:253.40px;" width="26.00" height="19.40" viewBox="0 -0.1 26 19.4"><circle cx="13" cy="9.6" r="1.45" fill="#a59c9c"/><path d="M5.3 1 A10.5 10.5 0 0 0 5.3 18.2 M20.7 1 A10.5 10.5 0 0 1 20.7 18.2" fill="none" stroke="#a59c9c" stroke-width="2" stroke-linecap="round"/><path d="M9.1 4.2 A7.2 7.2 0 0 0 9.1 15.1 M16.9 4.2 A7.2 7.2 0 0 1 16.9 15.1" fill="none" stroke="#a59c9c" stroke-width="1.8" stroke-linecap="round"/></svg>
<svg class="a" style="left:24.35px;top:315.20px;" width="25.40" height="25.40" viewBox="-12.7 -12.7 25.4 25.4"><circle r="12.6" fill="#a59c9c"/><polygon points="0.00,11.35 -3.00,9.17 -1.85,5.65 1.85,5.65 3.00,9.17" fill="#161a30" stroke="#161a30" stroke-width="1.5" stroke-linejoin="round"/><polygon points="-10.51,3.71 -9.36,0.19 -5.66,0.19 -4.52,3.71 -7.51,5.89" fill="#161a30" stroke="#161a30" stroke-width="1.5" stroke-linejoin="round"/><polygon points="-6.50,-8.64 -2.79,-8.64 -1.65,-5.12 -4.64,-2.94 -7.64,-5.12" fill="#161a30" stroke="#161a30" stroke-width="1.5" stroke-linejoin="round"/><polygon points="6.50,-8.64 7.64,-5.12 4.64,-2.94 1.65,-5.12 2.79,-8.64" fill="#161a30" stroke="#161a30" stroke-width="1.5" stroke-linejoin="round"/><polygon points="10.51,3.71 7.51,5.89 4.52,3.71 5.66,0.19 9.36,0.19" fill="#161a30" stroke="#161a30" stroke-width="1.5" stroke-linejoin="round"/></svg>
<svg class="a" style="left:22.30px;top:380.20px;" width="30.00" height="25.00" viewBox="-0.6 -1.2 30 25"><g transform="rotate(9 14.4 11)"><path d="M8.2 3.6 C10.6 3 12.4 4.4 14.4 4.4 C16.4 4.4 18.2 3 20.6 3.6 C24 4.6 25.8 9.4 27.2 14.6 C28.6 19.6 28.4 22.6 25.8 22.4 C23.4 22.2 22.4 19.6 20.6 17.4 C19.6 16.2 18.6 16 14.4 16 C10.2 16 9.2 16.2 8.2 17.4 C6.4 19.6 5.4 22.2 3 22.4 C0.4 22.6 0.2 19.6 1.6 14.6 C3 9.4 4.8 4.6 8.2 3.6 Z" fill="#a59c9c"/><path d="M14.4 4.2 C14.2 2.4 15.4 1.8 16.8 1.8 C18.4 1.8 18.6 0.8 18.4 0.2" fill="none" stroke="#a59c9c" stroke-width="1.1"/><path d="M7.2 8.2 L11 12 M11 8.2 L7.2 12" stroke="#161a30" stroke-width="1.5" stroke-linecap="round"/><circle cx="20.4" cy="8" r="1" fill="#161a30"/><circle cx="20.4" cy="12" r="1" fill="#161a30"/><circle cx="18.4" cy="10" r="1" fill="#161a30"/><circle cx="22.4" cy="10" r="1" fill="#161a30"/></g></svg>
<svg class="a" style="left:26.00px;top:459.00px;" width="22.00" height="28.00" viewBox="26 459 22 28"><path d="M28.95 477 V469.8 A8.11 8.11 0 0 1 45.17 469.8 V477" fill="none" stroke="#14d630" stroke-width="1.6"/><rect x="29.7" y="471.4" width="4.5" height="6" rx="0.9" fill="none" stroke="#14d630" stroke-width="1.5"/><rect x="40.1" y="471.4" width="4.5" height="6" rx="0.9" fill="none" stroke="#14d630" stroke-width="1.5"/><path d="M28.95 477 V479 C28.95 481.4 30.6 482.5 32.6 482.5 H35" fill="none" stroke="#14d630" stroke-width="1.6"/><circle cx="37" cy="482.4" r="2.05" fill="none" stroke="#14d630" stroke-width="1.5"/></svg>
<div class="a " style="left:77.00px;top:0.00px;width:1803.00px;height:78.00px;background:#080c26;box-shadow:0 3px 10px rgba(2,4,16,.55)"></div>
<div class="a " style="left:0.00px;top:0.00px;width:77.00px;height:78.00px;background:#171b31;box-shadow:0 3px 8px rgba(2,4,16,.35)"></div>
<div class="a " style="left:28.00px;top:28.60px;width:20.20px;height:2.10px;background:#a9a0a3;border-radius:1px"></div>
<div class="a " style="left:26.00px;top:34.90px;width:22.20px;height:2.10px;background:#a9a0a3;border-radius:1px"></div>
<div class="a " style="left:33.20px;top:41.40px;width:15.00px;height:2.30px;background:#a9a0a3;border-radius:1px"></div>
<span class="t" style="left:95.23px;top:27.46px;font-size:20.72px;font-weight:700;color:#f3e6d8;transform:scaleX(1.0917);">NINE</span>
<span class="t" style="left:179.91px;top:27.46px;font-size:20.72px;font-weight:700;color:#f3e6d8;transform:scaleX(1.0741);">CASINO</span>
<div class="a " style="left:301.00px;top:17.80px;width:202.00px;height:40.40px;border-radius:20.2px;background:#1d2136"></div>
<span class="t" style="left:335.57px;top:29.57px;font-size:15.51px;font-weight:700;color:#a59c9c;transform:scaleX(1.0148);">Casino</span>
<span class="t" style="left:437.31px;top:29.57px;font-size:15.51px;font-weight:700;color:#a59c9c;transform:scaleX(1.0439);">Sports</span>
<div class="a " style="left:1457.00px;top:17.80px;width:130.00px;height:40.40px;border-radius:20.2px;background:#161a30"></div>
<div class="a " style="left:1526.90px;top:22.90px;width:55.20px;height:30.00px;border-radius:15px;background:#40424f"></div>
<span class="t" style="left:1469.27px;top:31.41px;font-size:15.94px;font-weight:700;color:#fbf3ea;transform:scaleX(1.1510);">0.00 €</span>
<div class="a " style="left:1647.00px;top:17.80px;width:117.70px;height:36.40px;border-radius:20.2px;border:2px solid #3957c8"></div>
<span class="t" style="left:1682.39px;top:30.66px;font-size:14.93px;font-weight:700;color:#fbf1e6;transform:scaleX(1.0890);">Activities</span>
<div class="a " style="left:1774.00px;top:17.80px;width:112.00px;height:40.40px;border-radius:20.2px;background:#da510a"></div>
<span class="t" style="left:1808.74px;top:30.66px;font-size:14.93px;font-weight:700;color:#fbeee0;transform:scaleX(1.0954);">Deposit</span>
<div class="a " style="left:1842.00px;top:11.80px;width:60.00px;height:17.10px;border-radius:8.6px;background:#0b8c14"></div>
<span class="t" style="left:1859.95px;top:15.58px;font-size:9.71px;font-weight:700;color:#ffffff;transform:scaleX(1.1193);">100%</span>
<svg class="a" style="left:145.00px;top:10.00px;" width="40.00" height="45.00" viewBox="0 0 768 864"><g fill="#da540a"><path d="M230 190 L300 255 L385 138 L470 255 L540 190 L502 302 Q385 272 272 302 Z"/><path d="M165 560 C158 470 228 372 350 336 C410 320 470 334 506 352 C532 402 572 456 612 514 C620 534 600 550 603 575 C607 602 600 632 580 653 C556 661 526 651 506 626 L500 642 C510 672 530 692 549 701 C520 736 470 756 410 751 C380 749 355 736 340 722 L322 770 C300 752 285 727 283 702 L262 714 C245 692 238 667 240 642 L215 657 C205 627 205 602 210 582 L185 597 C178 587 170 574 165 560 Z"/></g><path d="M196 548 C230 472 300 424 385 414 C402 412 412 422 406 438 C386 482 400 526 450 571 C470 589 494 602 501 640" fill="none" stroke="#080c26" stroke-width="21" stroke-linecap="round"/><path d="M507 603 C532 613 566 613 597 597" fill="none" stroke="#080c26" stroke-width="11"/><path d="M498 461 L541 471" stroke="#080c26" stroke-width="10" opacity=".8"/><circle cx="593" cy="523" r="7" fill="#080c26" opacity=".7"/></svg>
<svg class="a" style="left:312.70px;top:29.60px;" width="16.70" height="16.45" viewBox="0 0 26 25.6"><circle cx="5.9" cy="19.8" r="5.75" fill="#a59c9c"/><circle cx="20.1" cy="17.3" r="5.85" fill="#a59c9c"/><path d="M8.8 15.2 C11.4 11 14.4 6 16 1.5 M20.6 11.8 C19.6 8 18 4.6 15.8 1.8 M11.2 2.9 L18 0.7" fill="none" stroke="#a59c9c" stroke-width="1.6" stroke-linecap="round"/></svg>
<svg class="a" style="left:414.50px;top:29.50px;" width="17.00" height="17.00" viewBox="-12.7 -12.7 25.4 25.4"><circle r="12.6" fill="#a59c9c"/><polygon points="0.00,11.35 -3.00,9.17 -1.85,5.65 1.85,5.65 3.00,9.17" fill="#1d2136" stroke="#1d2136" stroke-width="1.5" stroke-linejoin="round"/><polygon points="-10.51,3.71 -9.36,0.19 -5.66,0.19 -4.52,3.71 -7.51,5.89" fill="#1d2136" stroke="#1d2136" stroke-width="1.5" stroke-linejoin="round"/><polygon points="-6.50,-8.64 -2.79,-8.64 -1.65,-5.12 -4.64,-2.94 -7.64,-5.12" fill="#1d2136" stroke="#1d2136" stroke-width="1.5" stroke-linejoin="round"/><polygon points="6.50,-8.64 7.64,-5.12 4.64,-2.94 1.65,-5.12 2.79,-8.64" fill="#1d2136" stroke="#1d2136" stroke-width="1.5" stroke-linejoin="round"/><polygon points="10.51,3.71 7.51,5.89 4.52,3.71 5.66,0.19 9.36,0.19" fill="#1d2136" stroke="#1d2136" stroke-width="1.5" stroke-linejoin="round"/></svg>
<svg class="a" style="left:1408.00px;top:24.00px;" width="28.00" height="28.00" viewBox="1408 24 28 28"><circle cx="1419.8" cy="35.8" r="9.1" fill="none" stroke="#a59c9c" stroke-width="2.2"/><path d="M1426.4 42.6 L1433.4 49.6" stroke="#a59c9c" stroke-width="2.3" stroke-linecap="round"/></svg>
<svg class="a" style="left:1537.20px;top:30.00px;" width="15.80" height="16.20" viewBox="0 0 15.8 16.2"><rect x="0.4" y="4.6" width="15" height="3.6" rx="0.9" fill="#d8cfc8"/><path d="M1.5 9.2 H7.1 V16 H2.7 A1.2 1.2 0 0 1 1.5 14.8 Z M8.7 9.2 H14.3 V14.8 A1.2 1.2 0 0 1 13.1 16 H8.7 Z" fill="#d8cfc8"/><path d="M7.7 4.4 A1.75 1.75 0 1 1 6.4 1 C7.3 1.2 7.7 2.6 7.9 4.4 C8.1 2.6 8.5 1.2 9.4 1 A1.75 1.75 0 1 1 8.1 4.4" fill="none" stroke="#d8cfc8" stroke-width="1.15"/><rect x="7.2" y="4.6" width="1.4" height="11.4" fill="#40424f"/></svg>
<svg class="a" style="left:1557.00px;top:33.00px;" width="17.00" height="11.00" viewBox="0 0 17 11"><path d="M1.6 1.9 L8.3 8.9 L15 1.9" fill="none" stroke="#d8cfc8" stroke-width="1.6"/></svg>
<svg class="a" style="left:1597.10px;top:17.80px;" width="40.40" height="40.40" viewBox="0 0 40.4 40.4"><clipPath id="av"><circle cx="20.2" cy="20.2" r="20.2"/></clipPath><g clip-path="url(#av)"><rect width="41" height="41" fill="#cbc2b8"/><path d="M4.6 41 C4.4 31 7.4 25 11.8 23.4 L13 41 Z" fill="#6f6c68"/><path d="M33 21.6 C36.6 22.6 38.6 26 38.2 30.4 L33.4 30 Z" fill="#6f6c68"/><path d="M9 41 C9.6 33 13 29 20 29 C27 29 31.6 33 32 41 Z" fill="#e4dfd5"/><rect x="12.3" y="34.9" width="15.6" height="6" fill="#efe9dd"/><path d="M13 34.6 Q20 37.8 27.4 34.6" fill="none" stroke="#b98d35" stroke-width="1"/><path d="M18.2 35.8 H20.2 L20 40.4 H18.6 Z" fill="#b98d35"/><circle cx="9.9" cy="11.5" r="2.5" fill="#2f2823"/><circle cx="28.8" cy="10.9" r="2.5" fill="#2f2823"/><ellipse cx="20.1" cy="19.6" rx="12.9" ry="10.8" fill="#ebe7df"/><ellipse cx="20.1" cy="24.4" rx="11.4" ry="6.6" fill="#f2efe8"/><ellipse cx="15.1" cy="15.2" rx="2.7" ry="2" fill="#3a322c" transform="rotate(-18 15.1 15.2)"/><ellipse cx="24.2" cy="14.9" rx="2.7" ry="2" fill="#3a322c" transform="rotate(18 24.2 14.9)"/><circle cx="15.3" cy="15.4" r="0.7" fill="#c9c2b8"/><circle cx="24" cy="15.1" r="0.7" fill="#c9c2b8"/><ellipse cx="19.8" cy="18.8" rx="2.7" ry="1.5" fill="#3a2a22"/><path d="M16.4 21.4 Q20 23.4 24.2 21.2" fill="none" stroke="#a89e92" stroke-width=".7"/><path d="M13.4 9.6 L12.8 3.4 L16.1 7 L19.2 2.4 L22.3 7 L25.6 3.4 L25.4 9.4 Q19.4 8 13.4 9.6 Z" fill="#c0902f"/><path d="M13.4 9.7 Q19.4 8.1 25.4 9.5 L25.4 8.4 Q19.4 7 13.4 8.6 Z" fill="#9c7222"/></g></svg>
<svg class="a" style="left:1623.40px;top:43.90px;" width="18.00" height="18.00" viewBox="-9 -9 18 18"><circle r="7.6" fill="#141a36"/><rect x="-4.75" y="-4.75" width="9.5" height="9.5" rx="1" transform="rotate(45)" fill="#d9860f"/><path d="M-6.5 0 L0 6.5 L6.5 0 Z" fill="#b5620d" opacity=".55"/><circle r="3.2" fill="#22243a" stroke="#7a3e10" stroke-width=".6"/><circle r="1.05" fill="#e8950f"/></svg>
<svg class="a" style="left:1657.00px;top:28.00px;" width="20.00" height="20.00" viewBox="1657 28 20 20"><path d="M1674.2 35.4 A7.6 7.6 0 1 1 1669.7 30.9" fill="none" stroke="#ddd3c9" stroke-width="1.15" stroke-linecap="round"/><path d="M1671.3 36.6 A4.5 4.5 0 1 1 1668.5 33.7" fill="none" stroke="#ddd3c9" stroke-width="1.15" stroke-linecap="round"/><circle cx="1667.05" cy="38" r="1.85" fill="#ddd3c9"/><path d="M1667.05 38 L1672.6 32.4" stroke="#ddd3c9" stroke-width="1.15" stroke-linecap="round"/><path d="M1670.4 34.6 L1670.2 31.6 L1672.2 29.8 L1672.6 32.2 L1675 32.6 L1673.3 34.5 Z" fill="#ddd3c9" fill-opacity=".55" stroke="#ddd3c9" stroke-width=".9" stroke-linejoin="round"/></svg>
<svg class="a" style="left:1786.00px;top:30.00px;" width="16.00" height="16.00" viewBox="0 0 16 16"><path d="M8 0.8 V15.2 M0.8 8 H15.2" stroke="#f6d3bd" stroke-width="1.5"/></svg>
<svg class="a" style="left:1846.80px;top:14.40px;" width="10.60" height="11.09" viewBox="205 168 540 565"><path d="M225 248 L470 262 L735 418 L298 338 Z" fill="#ea4a72"/><path d="M225 248 L298 338 L290 712 L232 604 Z" fill="#c41c42"/><path d="M243 268 L271 302 L263 662 L238 614 Z" fill="#e6b02a"/><path d="M298 338 L735 418 L655 690 L290 712 Z" fill="#cc2050"/><path d="M600 393 L735 418 L655 690 L520 704 Z" fill="#da3966"/><path d="M298 338 L522 378 L505 440 L296 400 Z" fill="#d9305c" opacity=".7"/><path d="M522 378 L607 394 L522 704 L440 714 Z" fill="#e8b52a"/><path d="M290 300 L560 352 L600 392 L300 338 Z" fill="#e9b32a"/><ellipse cx="332" cy="234" rx="40" ry="31" fill="#f3c736"/><ellipse cx="437" cy="238" rx="43" ry="64" fill="#f1c030"/><ellipse cx="600" cy="270" rx="52" ry="38" transform="rotate(18 600 270)" fill="#f3c736"/><ellipse cx="604" cy="274" rx="22" ry="14" transform="rotate(18 604 274)" fill="#d9951c"/><ellipse cx="500" cy="330" rx="52" ry="30" fill="#eeb62c"/><ellipse cx="437" cy="250" rx="16" ry="34" fill="#dc9a1e"/></svg>
<div class="a " style="left:1822.00px;top:711.30px;width:76.00px;height:76.00px;border-radius:50%;background:#40424f"></div>
<svg class="a" style="left:1845.00px;top:730.00px;" width="32.00" height="40.00" viewBox="1845 730 32 40"><path d="M1850 757 V745.4 A10.45 10.45 0 0 1 1870.9 745.4 V756" fill="none" stroke="#f1e2d3" stroke-width="2.4"/><rect x="1848.8" y="747.4" width="7.6" height="9.5" rx="1.7" fill="#f1e2d3"/><rect x="1864" y="747.4" width="8.1" height="9.5" rx="1.7" fill="#f1e2d3"/><path d="M1850 756 V758.4 C1850 761.6 1852.6 763 1857 763" fill="none" stroke="#f1e2d3" stroke-width="2.2"/><circle cx="1860.2" cy="762.6" r="3.6" fill="#f1e2d3"/></svg>
<div class="a " style="left:0.00px;top:806.70px;width:1880.00px;height:58.00px;background:#23263b"></div>
<span class="t" style="left:331.10px;top:830.76px;font-size:20.72px;font-weight:400;color:#d5ccc5;transform:scaleX(0.9601);">We use cookies to improve your experience. By using our website you are accepting our</span>
<span class="t" style="left:1112.52px;top:830.76px;font-size:20.72px;font-weight:400;color:#e8550c;transform:scaleX(0.9482);">Cookie Policy</span>
<span class="t" style="left:1236.90px;top:830.76px;font-size:20.72px;font-weight:400;color:#d5ccc5;transform:scaleX(0.9739);">to improve your experience</span>
<div class="a " style="left:1500.00px;top:822.00px;width:84.00px;height:39.50px;border-radius:20px;background:#3150c4"></div>
<span class="t" style="left:1514.79px;top:834.24px;font-size:15.07px;font-weight:700;color:#ffffff;transform:scaleX(1.0752);">Accept</span>
</div></body></html>
